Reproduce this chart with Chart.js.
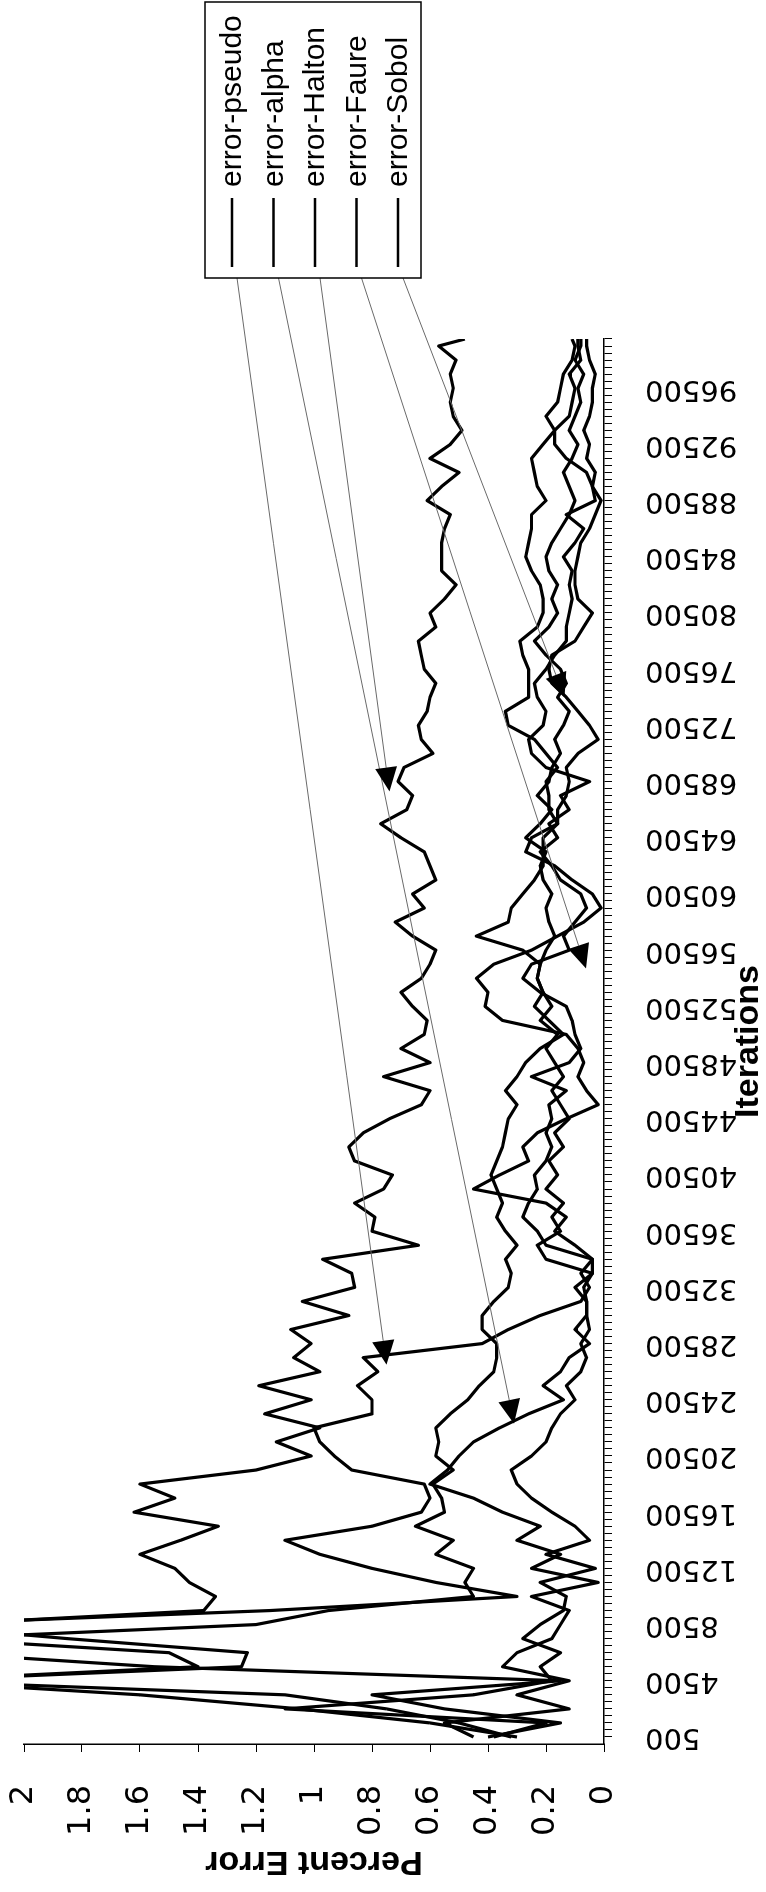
<!DOCTYPE html>
<html>
<head>
<meta charset="utf-8">
<script src="https://cdn.jsdelivr.net/npm/chart.js@4.4.0/dist/chart.umd.min.js"></script>
<style>
  html, body { margin: 0; padding: 0; background: #fff; }
  #page { position: relative; width: 766px; height: 1892px; overflow: hidden; background: #fff; }
  /* the chart is drawn landscape and turned a quarter turn, like the scanned page */
  #wrap { position: absolute; left: 0; top: 0; width: 1892px; height: 766px;
          transform-origin: 0 0; transform: translate(0px, 1892px) rotate(-90deg); }
</style>
</head>
<body>
<div id="page"><div id="wrap"><canvas id="errChart" width="1892" height="766"></canvas></div></div>
<script>
const iterations = [
  500, 1500, 2500, 3500, 4500, 5500, 6500, 7500, 8500, 9500,
  10500, 11500, 12500, 13500, 14500, 15500, 16500, 17500, 18500, 19500,
  20500, 21500, 22500, 23500, 24500, 25500, 26500, 27500, 28500, 29500,
  30500, 31500, 32500, 33500, 34500, 35500, 36500, 37500, 38500, 39500,
  40500, 41500, 42500, 43500, 44500, 45500, 46500, 47500, 48500, 49500,
  50500, 51500, 52500, 53500, 54500, 55500, 56500, 57500, 58500, 59500,
  60500, 61500, 62500, 63500, 64500, 65500, 66500, 67500, 68500, 69500,
  70500, 71500, 72500, 73500, 74500, 75500, 76500, 77500, 78500, 79500,
  80500, 81500, 82500, 83500, 84500, 85500, 86500, 87500, 88500, 89500,
  90500, 91500, 92500, 93500, 94500, 95500, 96500, 97500, 98500, 99500,
  100000
];

const errorPseudo = [
  0.32, 0.50, 0.75, 1.10, 2.40, 1.25, 1.23, 1.85, 2.40, 1.15,
  0.30, 0.58, 0.80, 0.98, 1.10, 0.80, 0.63, 0.60, 0.62, 0.87,
  0.93, 0.98, 1.00, 0.80, 0.80, 0.85, 0.78, 0.83, 0.42, 0.33,
  0.22, 0.08, 0.05, 0.08, 0.04, 0.10, 0.17, 0.13, 0.20, 0.45,
  0.36, 0.26, 0.28, 0.23, 0.13, 0.02, 0.06, 0.09, 0.07, 0.09,
  0.13, 0.35, 0.41, 0.40, 0.44, 0.38, 0.25, 0.16, 0.07, 0.01,
  0.04, 0.11, 0.17, 0.27, 0.25, 0.16, 0.16, 0.13, 0.12, 0.13,
  0.09, 0.02, 0.05, 0.09, 0.13, 0.18, 0.19, 0.18, 0.10, 0.07,
  0.04, 0.09, 0.10, 0.10, 0.09, 0.08, 0.05, 0.03, 0.01, 0.04,
  0.03, 0.06, 0.05, 0.07, 0.05, 0.04, 0.04, 0.03, 0.05, 0.06,
  0.06
];
const errorAlpha = [
  0.45, 0.55, 0.12, 0.30, 0.12, 0.35, 0.30, 0.18, 0.15, 0.12,
  0.25, 0.02, 0.25, 0.15, 0.30, 0.22, 0.35, 0.45, 0.60, 0.54,
  0.50, 0.45, 0.36, 0.26, 0.14, 0.21, 0.15, 0.12, 0.05, 0.10,
  0.06, 0.06, 0.07, 0.04, 0.04, 0.20, 0.23, 0.28, 0.26, 0.23,
  0.24, 0.20, 0.18, 0.20, 0.18, 0.19, 0.13, 0.25, 0.12, 0.08,
  0.10, 0.11, 0.13, 0.22, 0.28, 0.25, 0.12, 0.14, 0.10, 0.06,
  0.08, 0.15, 0.18, 0.22, 0.16, 0.19, 0.12, 0.15, 0.05, 0.20,
  0.25, 0.26, 0.21, 0.20, 0.23, 0.24, 0.20, 0.17, 0.13, 0.13,
  0.12, 0.11, 0.12, 0.11, 0.14, 0.10, 0.07, 0.13, 0.03, 0.04,
  0.06, 0.13, 0.17, 0.17, 0.12, 0.11, 0.10, 0.12, 0.08, 0.09,
  0.09
];
const errorHalton = [
  0.30, 0.60, 1.05, 1.60, 2.40, 1.40, 1.50, 2.30, 2.30, 1.38,
  1.34, 1.43, 1.48, 1.60, 1.46, 1.33, 1.62, 1.48, 1.60, 1.20,
  1.01, 1.13, 0.98, 1.17, 1.01, 1.19, 0.98, 1.07, 1.01, 1.08,
  0.88, 1.04, 0.86, 0.87, 0.97, 0.64, 0.80, 0.79, 0.86, 0.76,
  0.73, 0.86, 0.88, 0.83, 0.74, 0.63, 0.60, 0.76, 0.60, 0.70,
  0.62, 0.61, 0.66, 0.70, 0.63, 0.60, 0.58, 0.66, 0.72, 0.62,
  0.66, 0.58, 0.60, 0.62, 0.70, 0.77, 0.68, 0.66, 0.71, 0.69,
  0.59, 0.63, 0.64, 0.61, 0.60, 0.58, 0.62, 0.63, 0.64, 0.58,
  0.60, 0.55, 0.51, 0.56, 0.56, 0.56, 0.55, 0.53, 0.61, 0.56,
  0.50, 0.60, 0.53, 0.49, 0.52, 0.53, 0.52, 0.53, 0.51, 0.57,
  0.48
];
const errorFaure = [
  0.40, 0.15, 0.55, 0.80, 0.15, 1.55, 2.30, 2.30, 1.20, 0.95,
  0.45, 0.48, 0.45, 0.58, 0.52, 0.65, 0.55, 0.56, 0.59, 0.52,
  0.58, 0.57, 0.58, 0.53, 0.47, 0.43, 0.38, 0.37, 0.37, 0.42,
  0.42, 0.38, 0.33, 0.32, 0.34, 0.30, 0.34, 0.37, 0.35, 0.37,
  0.39, 0.37, 0.35, 0.34, 0.33, 0.30, 0.34, 0.30, 0.27, 0.22,
  0.14, 0.19, 0.24, 0.21, 0.23, 0.22, 0.28, 0.44, 0.33, 0.32,
  0.28, 0.24, 0.21, 0.21, 0.21, 0.16, 0.19, 0.19, 0.20, 0.16,
  0.20, 0.24, 0.33, 0.34, 0.26, 0.26, 0.26, 0.28, 0.29, 0.23,
  0.21, 0.21, 0.22, 0.25, 0.27, 0.26, 0.25, 0.25, 0.20, 0.23,
  0.24, 0.25, 0.21, 0.17, 0.20, 0.16, 0.15, 0.14, 0.11, 0.10,
  0.11
];
const errorSobol = [
  0.38, 0.20, 1.10, 0.45, 0.18, 0.22, 0.15, 0.28, 0.22, 0.14,
  0.13, 0.22, 0.03, 0.20, 0.05, 0.10, 0.18, 0.25, 0.30, 0.32,
  0.25, 0.20, 0.18, 0.15, 0.10, 0.13, 0.08, 0.06, 0.08, 0.05,
  0.06, 0.06, 0.10, 0.04, 0.20, 0.23, 0.15, 0.18, 0.14, 0.20,
  0.16, 0.19, 0.14, 0.17, 0.12, 0.15, 0.18, 0.14, 0.17, 0.20,
  0.16, 0.22, 0.18, 0.21, 0.23, 0.22, 0.20, 0.17, 0.19, 0.20,
  0.18, 0.21, 0.22, 0.20, 0.27, 0.22, 0.18, 0.23, 0.19, 0.18,
  0.15, 0.17, 0.14, 0.12, 0.16, 0.13, 0.15, 0.20, 0.24, 0.19,
  0.16, 0.18, 0.16, 0.19, 0.20, 0.18, 0.15, 0.12, 0.10, 0.12,
  0.14, 0.11, 0.09, 0.12, 0.10, 0.08, 0.09, 0.07, 0.10, 0.08,
  0.08
];

const seriesNames = ['error-pseudo', 'error-alpha', 'error-Halton', 'error-Faure', 'error-Sobol'];
const seriesValues = [errorPseudo, errorAlpha, errorHalton, errorFaure, errorSobol];

// labelled ticks on the iteration axis
const xTickLabels = [
  500, 4500, 8500, 12500, 16500, 20500, 24500, 28500, 32500, 36500,
  40500, 44500, 48500, 52500, 56500, 60500, 64500, 68500, 72500, 76500,
  80500, 84500, 88500, 92500, 96500
];

// where the legend pointers end (iteration, percent error), one per series
const arrowIteration = [27000, 22800, 67800, 55200, 74500];
const arrowError = [0.75, 0.31, 0.74, 0.062, 0.136];

// small tick marks every 500 iterations
const xTickMarks = [];
for (let t = 500; t <= 100000; t += 500) xTickMarks.push(t);

const legendPointers = {
  id: 'legendPointers',
  afterDraw(chart) {
    const ctx = chart.ctx;
    const area = chart.chartArea;
    const xs = chart.scales.x;
    const ys = chart.scales.y;
    const boxLeft = area.right + 61;
    const boxW = 276;
    const boxH = 216;
    const boxTop = (area.top + area.bottom) / 2 - 109;
    const rowGap = 41.5;
    const firstRow = boxTop + 27;

    ctx.save();
    chart.data.datasets.forEach((ds, i) => {
      const sx = boxLeft;
      const sy = firstRow + i * rowGap + 5;
      const tx = xs.getPixelForValue(arrowIteration[i]);
      const ty = ys.getPixelForValue(arrowError[i]);
      const len = Math.hypot(tx - sx, ty - sy);
      const ux = (tx - sx) / len;
      const uy = (ty - sy) / len;
      const bx = tx - ux * 24;
      const by = ty - uy * 24;

      ctx.strokeStyle = '#6a6a6a';
      ctx.lineWidth = 1;
      ctx.beginPath();
      ctx.moveTo(sx, sy);
      ctx.lineTo(bx, by);
      ctx.stroke();

      ctx.fillStyle = '#000';
      ctx.beginPath();
      ctx.moveTo(tx, ty);
      ctx.lineTo(bx - uy * 11, by + ux * 11);
      ctx.lineTo(bx + uy * 11, by - ux * 11);
      ctx.closePath();
      ctx.fill();
    });

    ctx.fillStyle = '#fff';
    ctx.fillRect(boxLeft, boxTop, boxW, boxH);
    ctx.strokeStyle = '#000';
    ctx.lineWidth = 1.5;
    ctx.strokeRect(boxLeft, boxTop, boxW, boxH);

    ctx.font = '30px "Liberation Sans", Arial, sans-serif';
    ctx.textBaseline = 'middle';
    ctx.textAlign = 'left';
    chart.data.datasets.forEach((ds, i) => {
      const y = firstRow + i * rowGap;
      ctx.strokeStyle = '#000';
      ctx.lineWidth = 2.5;
      ctx.beginPath();
      ctx.moveTo(boxLeft + 11, y);
      ctx.lineTo(boxLeft + 80, y);
      ctx.stroke();
      ctx.fillStyle = '#000';
      ctx.fillText(ds.label, boxLeft + 91, y + 1);
    });
    ctx.restore();
  }
};

const ctx = document.getElementById('errChart').getContext('2d');
const chart = new Chart(ctx, {
  type: 'line',
  data: {
    datasets: seriesNames.map((name, i) => ({
      label: name,
      data: iterations.map((it, k) => ({ x: it, y: seriesValues[i][k] })),
      borderColor: '#000',
      borderWidth: 3.2,
      pointRadius: 0,
      tension: 0,
      fill: false,
      borderJoinStyle: 'round'
    }))
  },
  options: {
    responsive: false,
    animation: false,
    devicePixelRatio: 1,
    layout: { padding: { left: 0, right: 339, top: 24, bottom: 0 } },
    plugins: {
      legend: { display: false },
      tooltip: { enabled: false }
    },
    scales: {
      x: {
        type: 'linear',
        min: 0,
        max: 100000,
        afterBuildTicks: (scale) => { scale.ticks = xTickMarks.map(v => ({ value: v })); },
        afterFit: (scale) => { scale.height = 162; },
        ticks: {
          autoSkip: false,
          minRotation: 90,
          maxRotation: 90,
          padding: 33,
          color: '#000',
          font: { family: '"DejaVu Sans"', size: 29 },
          callback: (v) => xTickLabels.includes(v) ? String(v) : ''
        },
        grid: { drawOnChartArea: false, drawTicks: true, tickLength: 8, color: '#000', lineWidth: 1 },
        border: { display: true, color: '#000', width: 1.5 },
        title: {
          display: true,
          text: 'Iterations',
          color: '#000',
          font: { family: '"Liberation Sans"', size: 34, weight: 'bold', lineHeight: 1 },
          padding: { top: 0, bottom: 0 }
        }
      },
      y: {
        min: 0,
        max: 2,
        afterFit: (scale) => {
          scale.width = 148;
          scale.paddingTop = 0;
          scale.paddingBottom = 0;
        },
        ticks: {
          stepSize: 0.2,
          padding: 33,
          color: '#000',
          font: { family: '"DejaVu Sans"', size: 32 },
          callback: (v) => String(Math.round(v * 10) / 10)
        },
        grid: { drawOnChartArea: false, drawTicks: true, tickLength: 8, color: '#000', lineWidth: 1 },
        border: { display: true, color: '#000', width: 1.5 },
        title: {
          display: true,
          text: 'Percent Error',
          color: '#000',
          font: { family: '"Liberation Sans"', size: 34, weight: 'bold', lineHeight: 1.2 },
          padding: { top: 10, bottom: 0 }
        }
      }
    }
  },
  plugins: [legendPointers]
});
</script>
</body>
</html>
